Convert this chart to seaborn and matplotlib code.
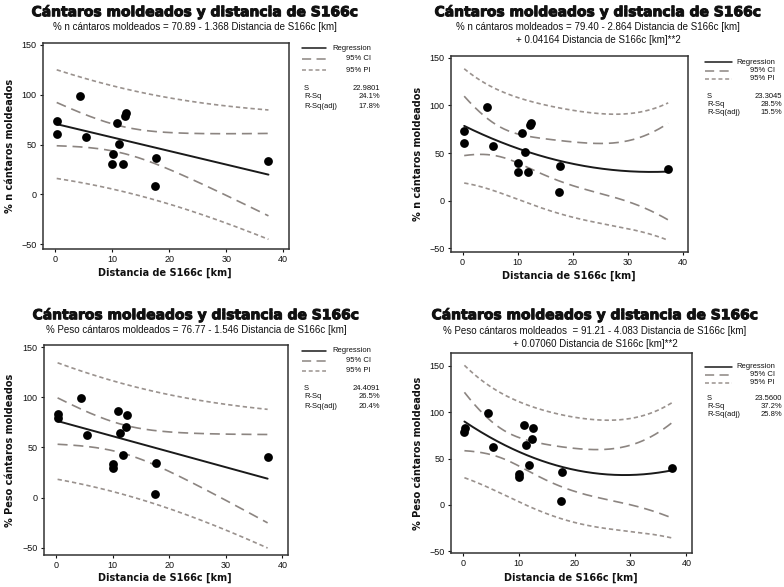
import numpy as np
import matplotlib
matplotlib.use("Agg")
import matplotlib.pyplot as plt
import matplotlib.patheffects as pe
from matplotlib.lines import Line2D
import seaborn as sns

sns.set_theme(style="white", context="paper")
plt.rcParams['font.family'] = ['Liberation Sans', 'DejaVu Sans']
plt.rcParams['text.color'] = '#111111'

W, H = 784, 587

# data (same distances for both responses)
distancia = [0.35, 0.3, 4.45, 5.45, 10.0, 10.1, 10.9, 11.3, 11.9, 12.35, 12.5, 17.5, 17.7, 37.4]
pct_n = [73.4, 60.7, 98.5, 57.3, 30.6, 40.0, 71.4, 50.7, 30.0, 79.1, 81.8, 8.6, 36.7, 33.0]
pct_peso = [83.0, 79.0, 99.0, 62.9, 33.3, 29.9, 86.0, 64.6, 42.9, 70.7, 82.5, 3.7, 35.0, 40.1]

# fitted models as printed on the chart
coef_n_lin = [70.89, -1.368]
coef_n_quad = [79.40, -2.864, 0.04164]
coef_peso_lin = [76.77, -1.546]
coef_peso_quad = [91.21, -4.083, 0.07060]
s_values = ["22.9801", "23.3045", "24.4091", "23.5600"]
rsq = ["24.1%", "28.5%", "26.5%", "37.2%"]
rsq_adj = ["17.8%", "15.5%", "20.4%", "25.8%"]
T_CRIT = {12: 2.1788, 11: 2.2010}

TITLE = "Cántaros moldeados y distancia de S166c"
XLABEL = "Distancia de S166c [km]"
subtitles = [
    ["% n cántaros moldeados = 70.89 - 1.368 Distancia de S166c [km]"],
    ["% n cántaros moldeados = 79.40 - 2.864 Distancia de S166c [km]",
     "+ 0.04164 Distancia de S166c [km]**2"],
    ["% Peso cántaros moldeados = 76.77 - 1.546 Distancia de S166c [km]"],
    ["% Peso cántaros moldeados  = 91.21 - 4.083 Distancia de S166c [km]",
     "+ 0.07060 Distancia de S166c [km]**2"],
]
ylabels = ["% n cántaros moldeados", "% n cántaros moldeados",
           "% Peso cántaros moldeados", "% Peso cántaros moldeados"]

CI_COLOR = '#8c8581'
PI_COLOR = '#9a928e'
CI_DASH = (0, (6, 3.5))
PI_DASH = (0, (2.6, 1.8))
HEAVY = [pe.withStroke(linewidth=0.7, foreground='#111111')]


def fx(px):
    return px / W


def fy(py):
    return 1 - py / H


def bands(x, coefs, s):
    x = np.asarray(x)
    coefs = np.asarray(coefs)
    X = np.vander(x, len(coefs), increasing=True)
    xtx_inv = np.linalg.inv(X.T @ X)
    t = T_CRIT[len(x) - len(coefs)]
    grid = np.linspace(x.min(), x.max(), 200)
    G = np.vander(grid, len(coefs), increasing=True)
    fit = G @ coefs
    h = np.einsum('ij,jk,ik->i', G, xtx_inv, G)
    return grid, fit, t * s * np.sqrt(h), t * s * np.sqrt(1 + h)


fig = plt.figure(figsize=(W / 100, H / 100), dpi=100)
fig.patch.set_facecolor('white')

# frame (l, t, r, b) in pixels, limits, text anchors
layout = [
    dict(box=(43, 43, 289, 249), ylim=(-55, 152), tx=195, ty=12, sy=27,
         ylx=10, xly=273, leg=(302, 326, 371, 380, [48, 59, 70], [88, 97, 106])),
    dict(box=(451, 56, 688, 252), ylim=(-54, 152), tx=598, ty=12, sy=27,
         ylx=418, xly=276, leg=(705, 732, 775, 782, [62, 71, 79], [96, 104, 112])),
    dict(box=(44, 345, 288, 555), ylim=(-57, 152), tx=196, ty=315, sy=330,
         ylx=10, xly=578, leg=(302, 326, 371, 380, [351, 361, 371], [388, 397, 406])),
    dict(box=(451, 353, 692, 553), ylim=(-52, 164), tx=595, ty=315, sy=331,
         ylx=418, xly=578, leg=(705, 732, 775, 782, [367, 375, 383], [399, 406, 414])),
]
models = [(pct_n, coef_n_lin), (pct_n, coef_n_quad),
          (pct_peso, coef_peso_lin), (pct_peso, coef_peso_quad)]

for i, (lay, (yvals, coefs)) in enumerate(zip(layout, models)):
    l, t, r, b = lay['box']
    ax = fig.add_axes([fx(l), fy(b), (r - l) / W, (b - t) / H])
    grid, fit, ci, pi = bands(distancia, coefs, float(s_values[i]))

    sns.lineplot(x=grid, y=fit, ax=ax, color='#1a1a1a', linewidth=1.4)
    for sign in (1, -1):
        sns.lineplot(x=grid, y=fit + sign * ci, ax=ax, color=CI_COLOR,
                     linewidth=1.2, linestyle=CI_DASH)
        sns.lineplot(x=grid, y=fit + sign * pi, ax=ax, color=PI_COLOR,
                     linewidth=1.2, linestyle=PI_DASH)
    sns.scatterplot(x=distancia, y=yvals, ax=ax, color='black', s=40,
                    edgecolor='black', linewidth=0, zorder=5)

    ax.set_xlim(-2.1, 41)
    ax.set_ylim(*lay['ylim'])
    ax.set_xticks([0, 10, 20, 30, 40])
    ax.set_yticks([-50, 0, 50, 100, 150])
    ax.tick_params(direction='out', length=2.5, width=0.8, pad=2,
                   labelsize=6.5, colors='#111111', bottom=True, left=True)
    for sp in ax.spines.values():
        sp.set_color('#333333')
        sp.set_linewidth(1.1)
    ax.set_xlabel('')
    ax.set_ylabel('')

    # titles and axis labels
    cx = (l + r) / 2
    fig.text(fx(lay['tx']), fy(lay['ty']), TITLE, ha='center', va='center',
             fontsize=10, fontweight='bold', family=['DejaVu Sans'],
             path_effects=HEAVY)
    for k, line in enumerate(subtitles[i]):
        fig.text(fx(lay['tx']), fy(lay['sy'] + 13 * k), line, ha='center',
                 va='center', fontsize=7)
    fig.text(fx(cx - 1), fy(lay['xly']), XLABEL, ha='center', va='center',
             fontsize=7, fontweight='bold', family=['DejaVu Sans'])
    fig.text(fx(lay['ylx']), fy((t + b) / 2), ylabels[i], ha='center',
             va='center', rotation=90, fontsize=7, fontweight='bold',
             family=['DejaVu Sans'])

    # legend block drawn by hand
    x0, x1, xr, xv, rows, srows = lay['leg']
    styles = [('Regression', '#1a1a1a', '-'), ('95% CI', CI_COLOR, CI_DASH),
              ('95% PI', PI_COLOR, PI_DASH)]
    for (lab, col, ls), ry in zip(styles, rows):
        fig.add_artist(Line2D([fx(x0), fx(x1)], [fy(ry), fy(ry)], color=col,
                              linestyle=ls, linewidth=1.1,
                              transform=fig.transFigure))
        fig.text(fx(xr), fy(ry), lab, ha='right', va='center', fontsize=5.5)
    for lab, val, ry in zip(['S', 'R-Sq', 'R-Sq(adj)'],
                            [s_values[i], rsq[i], rsq_adj[i]], srows):
        fig.text(fx(x0 + 2), fy(ry), lab, ha='left', va='center', fontsize=5.5)
        fig.text(fx(xv), fy(ry), val, ha='right', va='center', fontsize=5.5)

fig.savefig('out.png', dpi=100, facecolor='white')
